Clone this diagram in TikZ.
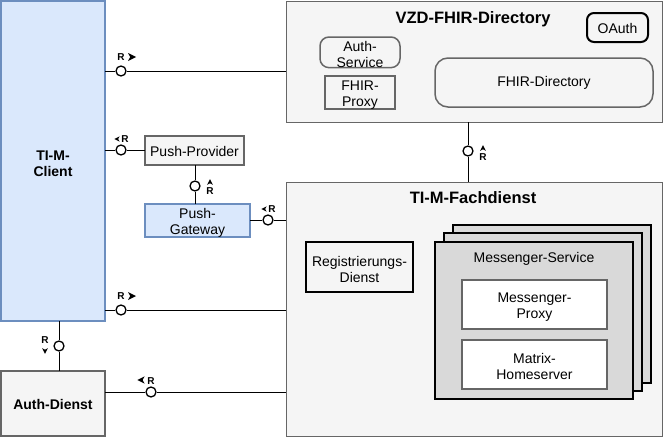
\documentclass[tikz,border=0pt]{standalone}
\usepackage{fontspec}
\setmainfont{Liberation Sans}
\usetikzlibrary{positioning}

\definecolor{clientfill}{HTML}{DAE8FC}
\definecolor{clientline}{HTML}{6C8EBF}
\definecolor{greyfill}{HTML}{F5F5F5}
\definecolor{greyline}{HTML}{666666}
\definecolor{stackfill}{HTML}{D9D9D9}

% small arrow tip next to an R label: [size], position, angle
\newcommand{\rtip}[3][1]{\fill[shift={(#2)},rotate=#3,scale=#1] (4pt,0pt) -- (-4pt,4pt) -- (-1.8pt,0pt) -- (-4pt,-4pt) -- cycle;}
% first line strut for two-line boxes
\newcommand{\firstln}{\rule{0pt}{14.5pt}}

\begin{document}
\begin{tikzpicture}[x=1pt,y=-1pt]
\tikzset{block/.style={rectangle,draw,anchor=north west,inner sep=0pt,outer sep=0pt,align=center,font=\fontsize{14}{16}\selectfont,execute at begin node={\rule{0pt}{11.5pt}}},
  greybox/.style={block,fill=greyfill,draw=greyline},
  bluebox/.style={block,fill=clientfill,draw=clientline,line width=2pt},
  stackbox/.style={block,fill=stackfill,draw=black,line width=2pt},
  title/.style={font=\bfseries\fontsize{16.5}{19}\selectfont},
  port/.style={circle,draw,fill=white,line width=1.3pt,minimum size=10pt,inner sep=0pt},
  wire/.style={draw,line width=0.9pt},
  rlabel/.style={font=\bfseries\fontsize{10}{12}\selectfont,inner sep=0pt}}

\useasboundingbox (0,0) rectangle (665,439);

  % left column
  \node [bluebox, minimum width=104pt, minimum height=320pt, font=\bfseries\fontsize{14}{16}\selectfont] (client) at (1,1) {\firstln TI-M-\\Client};
  \node [greybox, line width=2pt, minimum width=104pt, minimum height=65pt, font=\bfseries\fontsize{14}{16}\selectfont] (authdienst) at (1,371) {Auth-Dienst};
  \node [greybox, line width=2pt, minimum width=99pt, minimum height=29pt] (pushprovider) at (145,136) {Push-Provider};
  \node [bluebox, minimum width=105pt, minimum height=32pt] (pushgateway) at (145,204) {\firstln Push-\\Gateway};

  % VZD-FHIR-Directory
  \node [greybox, minimum width=376pt, minimum height=121pt] (vzd) at (286,1) {};
  \node [title] (vzdtitle) at (473,19) {VZD-FHIR-Directory};
  \node [block, rounded corners=7pt, line width=2pt, minimum width=61pt, minimum height=29pt] (oauth) at (587,13) {OAuth};
  \node [block, draw=greyline, rounded corners=9pt, line width=1.5pt, minimum width=80pt, minimum height=29pt] (authservice) at (320,37) {\firstln Auth-\\Service};
  \node [block, draw=greyline, line width=2pt, minimum width=70pt, minimum height=31pt] (fhirproxy) at (325,76) {\firstln FHIR-\\Proxy};
  \node [block, draw=greyline, rounded corners=13pt, line width=1.5pt, minimum width=218pt, minimum height=49pt] (fhirdir) at (435,58) {FHIR-Directory};

  % TI-M-Fachdienst
  \node [greybox, minimum width=376pt, minimum height=254pt] (fachdienst) at (286,182) {};
  \node [title] (fachtitle) at (473,198) {TI-M-Fachdienst};
  \node [block, fill=greyfill, line width=1.5pt, minimum width=107pt, minimum height=50pt] (regdienst) at (306,242) {\firstln Registrierungs-\\Dienst};
  \node [stackbox, minimum width=198pt, minimum height=158pt] (msback) at (453,225) {};
  \node [stackbox, minimum width=198pt, minimum height=158pt] (msmid) at (444,233) {};
  \node [stackbox, minimum width=198pt, minimum height=157pt] (ms) at (435,242) {};
  \node [font=\fontsize{14}{16}\selectfont] (mstitle) at (534,259) {Messenger-Service};
  \node [block, fill=white, draw=greyline, line width=2pt, minimum width=145pt, minimum height=49pt] (msproxy) at (462,280) {\firstln Messenger-\\Proxy};
  \node [block, fill=white, draw=greyline, line width=2pt, minimum width=145pt, minimum height=49pt] (homeserver) at (462,340) {\firstln Matrix-\\Homeserver};

  % interfaces
  \node [port] (p1) at (121,71) {};
  \path [wire] (client.east |- p1) -- (p1) -- (vzd.west |- p1);
  \node [rlabel] (r1) at (121,57) {R};
  \rtip{132,57}{0}

  \node [port] (p2) at (121,150) {};
  \path [wire] (client.east |- p2) -- (p2) -- (pushprovider.west |- p2);
  \node [rlabel] (r2) at (125,139) {R};
  \rtip[0.65]{117,139}{180}

  \node [port] (p3) at (195,186) {};
  \path [wire] (pushprovider.south -| p3) -- (p3) -- (pushgateway.north -| p3);
  \node [rlabel] (r3) at (210,191) {R};
  \rtip[0.7]{210,182}{90}

  \node [port] (p4) at (268,220) {};
  \path [wire] (pushgateway.east |- p4) -- (p4) -- (fachdienst.west |- p4);
  \node [rlabel] (r4) at (272,209) {R};
  \rtip[0.65]{264,209}{180}

  \node [port] (p5) at (121,310) {};
  \path [wire] (client.east |- p5) -- (p5) -- (fachdienst.west |- p5);
  \node [rlabel] (r5) at (121,296) {R};
  \rtip{132,296}{0}

  \node [port] (p6) at (59,346) {};
  \path [wire] (client.south -| p6) -- (p6) -- (authdienst.north -| p6);
  \node [rlabel] (r6) at (45,340) {R};
  \rtip[0.7]{45,351}{-90}

  \node [port] (p7) at (151,392) {};
  \path [wire] (authdienst.east |- p7) -- (p7) -- (fachdienst.west |- p7);
  \node [rlabel] (r7) at (151,381) {R};
  \rtip[0.9]{141,380}{180}

  \node [port] (p8) at (468,151) {};
  \path [wire] (vzd.south -| p8) -- (p8) -- (fachdienst.north -| p8);
  \node [rlabel] (r8) at (483,157) {R};
  \rtip[0.7]{483,148}{90}

\end{tikzpicture}
\end{document}
